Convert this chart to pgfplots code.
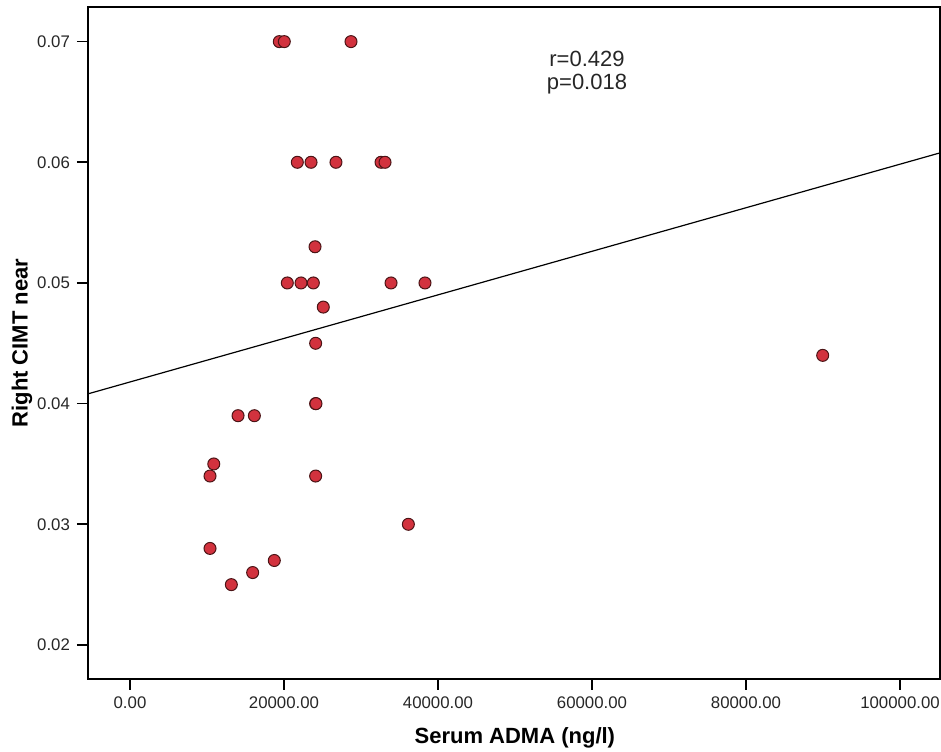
\documentclass[border=0pt]{standalone}
\usepackage{pgfplots}
\pgfplotsset{compat=1.18}
\usepackage{fontspec}
\setmainfont{Liberation Sans}
\definecolor{ptfill}{RGB}{210,50,62}
\definecolor{ptedge}{RGB}{75,20,22}
\begin{document}
\begin{tikzpicture}
\begin{axis}[
    scale only axis,
    width=426pt,
    height=336pt,
    xmin=-5455, xmax=105195,
    ymin=0.01718, ymax=0.07287,
    xtick={0,20000,40000,60000,80000,100000},
    ytick={0.02,0.03,0.04,0.05,0.06,0.07},
    xtick pos=left, ytick pos=left,
    tick align=outside,
    major tick length=5.5pt,
    axis line style={line width=0.8pt},
    every tick/.style={black, line width=0.8pt},
    /pgf/number format/assume math mode=true,
    xticklabel style={/pgf/number format/fixed, /pgf/number format/fixed zerofill,
        /pgf/number format/precision=2, /pgf/number format/1000 sep={}},
    yticklabel style={/pgf/number format/fixed, /pgf/number format/fixed zerofill,
        /pgf/number format/precision=2},
    scaled ticks=false,
    tick label style={font=\fontsize{8.4}{10}\selectfont, text=black!85},
    xlabel={Serum ADMA (ng/l)},
    ylabel={Right CIMT near},
    xlabel style={at={(axis description cs:0.501,-0.0878)}, anchor=center, font=\fontsize{11}{13}\selectfont\bfseries},
    ylabel style={at={(axis description cs:-0.0775,0.5)}, anchor=center, font=\fontsize{11}{13}\selectfont\bfseries},
    clip=false,
]
% regression line
\addplot[black, line width=0.6pt] coordinates {(-5455,0.04081) (105195,0.06078)};
% data points
\addplot[only marks, mark=*, mark size=3pt,
    mark options={fill=ptfill, draw=ptedge, line width=0.5pt}] coordinates {
    (19390,0.070) (20040,0.070) (28700,0.070)
    (21730,0.060) (23510,0.060) (26750,0.060) (32600,0.060) (33120,0.060)
    (24030,0.053)
    (20430,0.050) (22210,0.050) (23810,0.050) (33900,0.050) (38310,0.050)
    (25100,0.048)
    (24110,0.045)
    (24110,0.040) (24150,0.040)
    (14030,0.039) (16150,0.039)
    (10880,0.035)
    (10390,0.034) (24110,0.034)
    (36150,0.030)
    (10390,0.028)
    (18740,0.027)
    (15930,0.026)
    (13160,0.025)
    (89960,0.044)
};
\node[align=center, font=\fontsize{11}{11.5}\selectfont, text=black!85] at (axis cs:59350,0.0674) {r=0.429\\p=0.018};
\end{axis}
\pgfresetboundingbox
\useasboundingbox ([shift={(-44pt,-36.5pt)}]current axis.south west) rectangle ([shift={(0.5pt,3.5pt)}]current axis.north east);
\end{tikzpicture}
\end{document}
